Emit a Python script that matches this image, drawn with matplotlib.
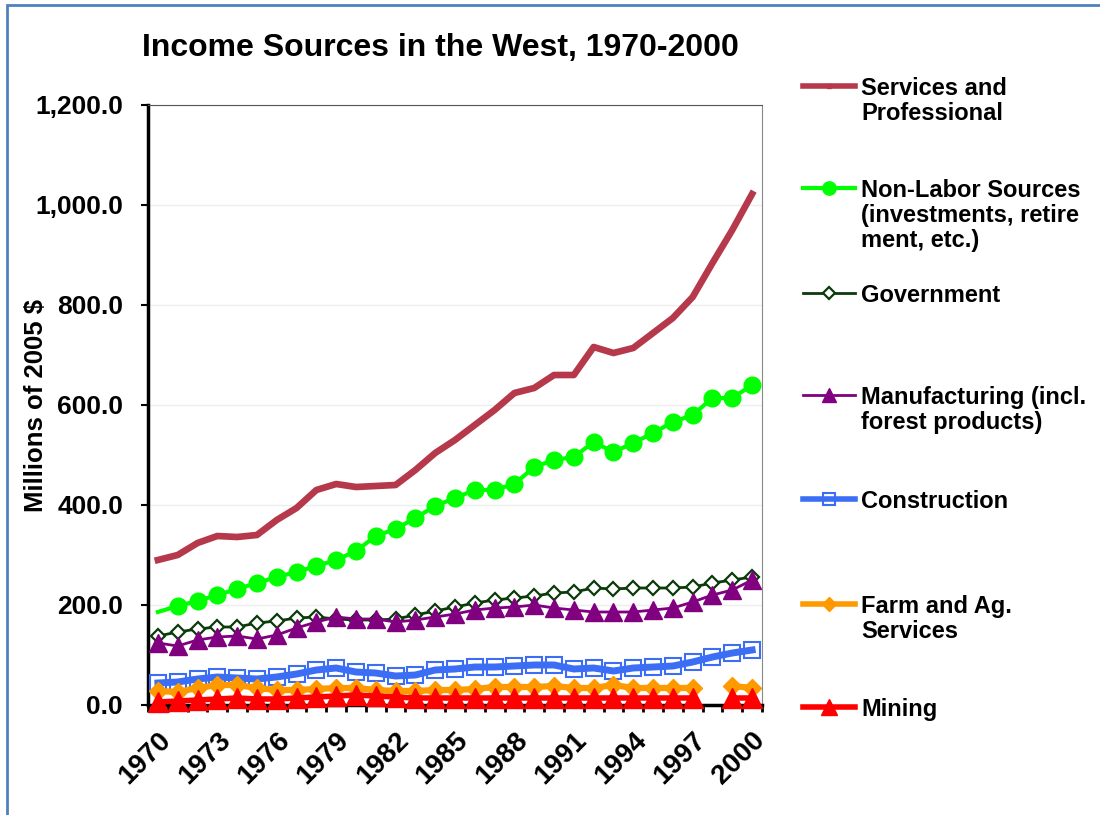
import numpy as np
import matplotlib
matplotlib.use("Agg")
import matplotlib.pyplot as plt
from matplotlib.lines import Line2D
from matplotlib.patches import Rectangle
from matplotlib.ticker import FuncFormatter, FixedLocator

plt.rcParams['font.family'] = ['Liberation Sans', 'DejaVu Sans']
plt.rcParams['font.weight'] = 'bold'
plt.rcParams['axes.labelweight'] = 'bold'

years = list(range(1970, 2001))
nan = np.nan

services = [290, 300, 324, 338, 336, 340, 370, 394, 430, 442,
            436, 438, 440, 470, 504, 530, 560, 590, 624, 634,
            660, 660, 716, 704, 714, 744, 774, 816, 884, 950, 1022]
nonlabor = [186, 198, 208, 220, 232, 244, 256, 266, 278, 290,
            308, 338, 352, 374, 398, 414, 430, 430, 442, 476,
            490, 496, 526, 506, 524, 544, 566, 580, 614, 614, 640]
government = [138, 146, 152, 156, 156, 164, 168, 174, 176, 172,
              170, 170, 172, 180, 188, 196, 204, 210, 214, 218,
              224, 226, 234, 232, 234, 234, 234, 236, 244, 250, 256]
manufacturing = [124, 118, 130, 136, 138, 132, 140, 154, 166, 176,
                 172, 172, 166, 170, 176, 182, 190, 194, 196, 200,
                 194, 190, 186, 186, 186, 190, 194, 206, 220, 230, 250]
construction = [44, 46, 52, 56, 54, 52, 56, 62, 70, 74,
                66, 64, 58, 60, 70, 72, 76, 76, 78, 80,
                80, 72, 74, 68, 74, 76, 78, 86, 96, 104, 110]
farm = [28, 26, 34, 40, 40, 34, 30, 30, 32, 34,
        34, 30, 28, 28, 30, 30, 32, 36, 36, 36,
        38, 34, 34, 40, 34, 34, 34, 34, nan, 38, 34]
mining = [6, 8, 10, 12, 14, 12, 12, 14, 16, 18,
          20, 18, 16, 14, 14, 14, 14, 14, 14, 14,
          14, 14, 14, 14, 14, 14, 14, 14, nan, 14, 14]

labels = ["Services and\nProfessional",
          "Non-Labor Sources\n(investments, retire\nment, etc.)",
          "Government",
          "Manufacturing (incl.\nforest products)",
          "Construction",
          "Farm and Ag.\nServices",
          "Mining"]

W, H = 1100, 815
fig = plt.figure(figsize=(W / 100, H / 100), dpi=100)
ax = fig.add_axes([148 / W, 1 - 705 / H, (762 - 148) / W, (705 - 105) / H])

x = np.arange(len(years))

styles = [
    dict(color='#B5394A', lw=4.8, marker=None),
    dict(color='#00FF00', lw=3, marker='o', ms=12, markevery=list(range(1, len(years)))),
    dict(color='#0B3A0B', lw=2, marker='D', ms=7.5, mfc='white', mew=1.6),
    dict(color='#800080', lw=2, marker='^', ms=13),
    dict(color='#3B6EF5', lw=5, marker='s', ms=11, mfc='none', mew=1.5),
    dict(color='#FF9900', lw=4.5, marker='D', ms=9),
    dict(color='#FF0000', lw=4, marker='^', ms=15),
]
series = [services, nonlabor, government, manufacturing, construction, farm, mining]

for i, (vals, st) in enumerate(zip(series, styles)):
    ax.plot(x, vals, clip_on=False, zorder=3 + i, **st)

ax.set_xlim(-0.5, len(years) - 0.5)
ax.set_ylim(0, 1200)
ax.set_yticks(np.arange(0, 1201, 200))
ax.yaxis.set_major_formatter(FuncFormatter(lambda v, p: f"{v:,.1f}"))
ax.grid(axis='y', color='#EEEEEE', lw=1)
ax.set_axisbelow(True)

ax.xaxis.set_major_locator(FixedLocator(list(range(0, len(years), 3))))
ax.set_xticklabels([str(years[i]) for i in range(0, len(years), 3)],
                   rotation=45, ha='right', rotation_mode='anchor')
ax.xaxis.set_minor_locator(FixedLocator(np.arange(-0.5, len(years), 1)))
ax.tick_params(axis='x', which='major', length=0, labelsize=20, pad=16)
ax.tick_params(axis='x', which='minor', length=5, width=2, direction='out')
ax.tick_params(axis='y', length=5, width=1.5, labelsize=19, pad=13)

for side in ['left', 'bottom']:
    ax.spines[side].set_linewidth(2.5)
    ax.spines[side].set_color('black')
ax.spines['top'].set_color('#555555')
ax.spines['right'].set_color('#888888')

ax.set_ylabel("Millions of 2005 $", fontsize=18.5)
ax.yaxis.set_label_coords((48 - 148) / (762 - 148), 0.5)
fig.text(440 / W, 1 - 48 / H, "Income Sources in the West, 1970-2000",
         fontsize=23, ha='center', va='center')

# legend drawn by hand to follow the uneven spacing
leg_y = [86, 188, 293, 395, 499, 604, 707]
for lab, st, yy in zip(labels, styles, leg_y):
    fy = 1 - yy / H
    ln = Line2D([803 / W, 829 / W, 855 / W], [fy, fy, fy], transform=fig.transFigure,
                color=st['color'], lw=min(st['lw'], 4),
                marker=st['marker'] if st['marker'] else 's',
                ms=st.get('ms', 4) * 0.8 if st['marker'] else 3,
                mfc=st.get('mfc', st['color']), mew=st.get('mew', 1),
                markevery=[1])
    fig.add_artist(ln)
    fig.text(861 / W, 1 - (yy - 9) / H, lab, fontsize=17, ha='left', va='top',
             linespacing=1.1)

fig.add_artist(Rectangle((7 / W, -0.1), 1.2, 1 - 5 / H + 0.1, transform=fig.transFigure,
                         fill=False, ec='#4F81BD', lw=2))

fig.savefig("out.png", dpi=100)
